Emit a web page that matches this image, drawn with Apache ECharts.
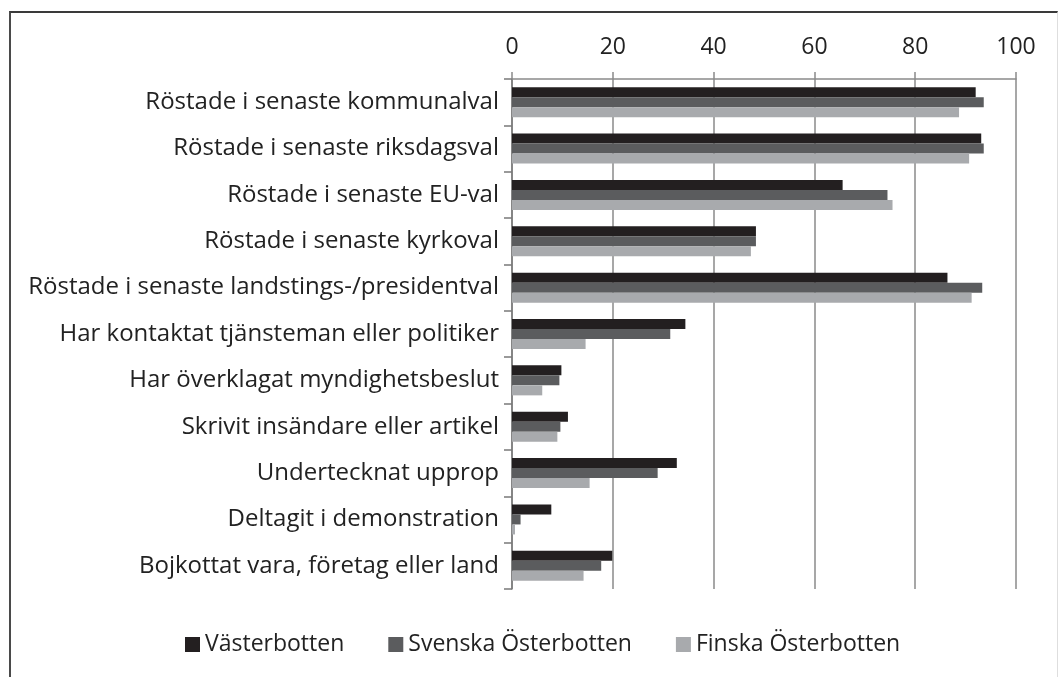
<!DOCTYPE html>
<html>
<head>
<meta charset="utf-8">
<script src="https://cdn.jsdelivr.net/npm/echarts@6/dist/echarts.min.js"></script>
<style>
  html, body { margin: 0; padding: 0; background: #fff; }
  #chart { width: 1060px; height: 677px; }
  /* ram runt bilden */
  .frame { position: absolute; left: 9px; top: 11px; right: 2px; bottom: -5px;
           border-top: 2px solid #3a3a3a; border-left: 2px solid #4a4a4a;
           border-right: 1px solid #dedede; pointer-events: none; }
</style>
</head>
<body>
<div id="chart"></div>
<div class="frame"></div>
<script>
var categories = [
  "Röstade i senaste kommunalval",
  "Röstade i senaste riksdagsval",
  "Röstade i senaste EU-val",
  "Röstade i senaste kyrkoval",
  "Röstade i senaste landstings-/presidentval",
  "Har kontaktat tjänsteman eller politiker",
  "Har överklagat myndighetsbeslut",
  "Skrivit insändare eller artikel",
  "Undertecknat upprop",
  "Deltagit i demonstration",
  "Bojkottat vara, företag eller land"
];
var vasterbotten = [92, 93.1, 65.6, 48.4, 86.4, 34.4, 9.8, 11.1, 32.7, 7.8, 19.9];
var svenskaOsterbotten = [93.6, 93.6, 74.5, 48.4, 93.3, 31.4, 9.4, 9.6, 28.9, 1.7, 17.7];
var finskaOsterbotten = [88.7, 90.7, 75.5, 47.4, 91.2, 14.6, 6.0, 9.0, 15.4, 0.6, 14.2];
var xTicks = [0, 20, 40, 60, 80, 100];

var font = "'Open Sans', Lato, sans-serif";

var myChart = echarts.init(document.getElementById("chart"));

function barSeries(name, data, color) {
  return {
    name: name,
    type: "bar",
    data: data,
    barWidth: 10,
    barGap: "0%",
    itemStyle: { color: color },
    emphasis: { disabled: true }
  };
}

var option = {
  animation: false,
  backgroundColor: "#fff",
  grid: { left: 512, right: 44, top: 79, bottom: 88 },
  legend: {
    left: 180,
    top: 628,
    itemWidth: 15,
    itemHeight: 15,
    itemGap: 44,
    icon: "rect",
    textStyle: { fontFamily: font, fontSize: 23, color: "#222" },
    data: ["Västerbotten", "Svenska Österbotten", "Finska Österbotten"]
  },
  xAxis: {
    type: "value",
    position: "top",
    min: xTicks[0],
    max: xTicks[xTicks.length - 1],
    interval: 20,
    axisLine: { show: true, lineStyle: { color: "#8a8a8a", width: 1.5 } },
    axisTick: { show: true, length: 7, lineStyle: { color: "#8a8a8a", width: 1.5 } },
    axisLabel: { margin: 20, fontFamily: font, fontSize: 23, color: "#222" },
    splitLine: { show: true, lineStyle: { color: "#8a8a8a", width: 1.5 } }
  },
  yAxis: {
    type: "category",
    inverse: true,
    data: categories,
    axisLine: { show: true, lineStyle: { color: "#7a7a7a", width: 1.5 } },
    axisTick: { show: true, length: 8, lineStyle: { color: "#7a7a7a", width: 1.5 } },
    axisLabel: { margin: 13, fontFamily: font, fontSize: 24, color: "#222" }
  },
  series: [
    barSeries("Västerbotten", vasterbotten, "#231f20"),
    barSeries("Svenska Österbotten", svenskaOsterbotten, "#5b5c5e"),
    barSeries("Finska Österbotten", finskaOsterbotten, "#a8aaad")
  ]
};

myChart.setOption(option);
</script>
</body>
</html>
